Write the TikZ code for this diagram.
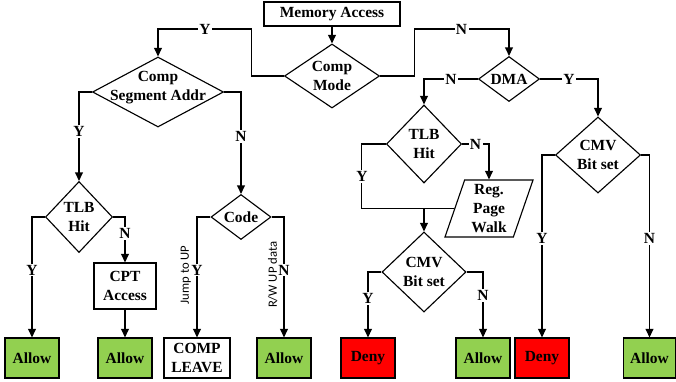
\documentclass[tikz,border=0pt]{standalone}
\usepackage{fontspec}
\setmainfont{Liberation Serif}
\newfontfamily\notefont{Carlito}
\usetikzlibrary{shapes.geometric,arrows.meta}
\definecolor{allowgreen}{HTML}{92D050}
\definecolor{denyred}{HTML}{FF0000}
\tikzset{
box/.style={draw,thick,inner sep=1pt,align=center},
allow/.style={box,fill=allowgreen,minimum width=1.35cm,minimum height=1cm},
deny/.style={box,fill=denyred,minimum width=1.35cm,minimum height=1cm},
decide/.style={diamond,draw,thick,inner sep=0pt},
walkbox/.style={trapezium,trapezium left angle=68,trapezium right angle=112,trapezium stretches=true,draw,thick,inner sep=0pt,minimum width=2.2cm,minimum height=1.425cm},
flow/.style={draw,thick,-{Triangle[length=6pt,width=5.5pt]}},
lbl/.style={fill=white,inner sep=1pt},
note/.style={rotate=90,inner sep=0pt,font=\notefont\fontsize{9}{10}\selectfont}
}
\providecommand{\Decide}[6][0pt]{
\node[decide,minimum width=#4cm,minimum height=#5cm] (#2) at (#3) {};
\node[align=center] (#2-txt) at ([yshift=#1]#2.center) {#6};
}

\begin{document}
\begin{tikzpicture}[x=0.025cm,y=-0.025cm,font=\fontsize{11}{13.5}\selectfont\bfseries]
\useasboundingbox (0,0) rectangle (676,381);
\node[box,minimum width=3.4cm,minimum height=0.6cm] (mem) at (332,14) {Memory Access};
\Decide{cmode}{332,76}{2.375}{1.6}{Comp\\Mode}
\Decide[3pt]{csa}{158,92}{3.275}{1.75}{Comp\\Segment Addr}
\Decide{tlba}{79,217}{1.675}{1.775}{TLB\\Hit}
\Decide{code}{241,217}{1.5}{1.125}{Code}
\Decide{dma}{509,79}{1.525}{1.125}{DMA}
\Decide{tlbb}{424,144}{1.875}{1.95}{TLB\\Hit}
\Decide{cmvb}{424,272}{2.1}{2.0}{CMV\\Bit set}
\Decide{cmvc}{598,155}{2.125}{1.9}{CMV\\Bit set}
\node[walkbox] (walk) at (489,208.5) {\phantom{\rule{1pt}{1pt}}};
\node[align=center] (walk-txt) at (walk.center) {Reg.\\Page\\Walk};
\node[box,minimum width=1.55cm,minimum height=1.15cm] (cpt) at (125,286) {CPT\\Access};
\node[allow] (allowa) at (32,358) {Allow};
\node[allow] (allowb) at (125,358) {Allow};
\node[box,minimum width=1.65cm,minimum height=1cm] (leave) at (197,358) {COMP\\LEAVE};
\node[allow] (allowc) at (284,358) {Allow};
\node[deny] (denya) at (368,358) {Deny};
\node[allow] (allowd) at (483,358) {Allow};
\node[deny] (denyb) at (542,358) {Deny};
\node[allow,minimum width=1.3cm] (allowe) at (649.5,358) {Allow};

\draw[flow] (mem) -- (cmode);
\draw[flow] (cmode.west) -| ++(-32,-47) -| node[lbl,pos=0.25]{Y} (csa.north);
\draw[flow] (cmode.east) -| ++(34,-47) -| node[lbl,pos=0.25]{N} (dma.north);
\draw[flow] (csa.west) -| node[lbl,pos=0.72]{Y} (tlba.north);
\draw[flow] (csa.east) -| node[lbl,pos=0.72]{N} (code.north);
\draw[flow] (tlba.west) -| node[lbl,pos=0.72]{Y} (allowa.north);
\draw[flow] (tlba.east) -| node[lbl,pos=0.68]{N} (cpt.north);
\draw[flow] (cpt) -- (allowb);
\draw[flow] (code.west) -| node[lbl,pos=0.72]{Y} node[xshift=-0.28cm,note,pos=0.74]{Jump to UP} (leave.north);
\draw[flow] (code.east) -| node[lbl,pos=0.72]{N} node[xshift=-0.28cm,note,pos=0.74]{R/W UP data} (allowc.north);
\draw[flow] (dma.west) -| node[lbl,pos=0.25]{N} (tlbb.north);
\draw[flow] (dma.east) -| node[lbl,pos=0.25]{Y} (cmvc.north);
\draw[flow] (tlbb.east) -| node[lbl,pos=0.25]{N} (walk.north);
\draw[thick] (tlbb.west) -- ++(-24,0) |- node[lbl,pos=0.25]{Y} (walk.left side);
\coordinate (merge) at (cmvb.north |- walk.left side);
\draw[flow] (merge) -- (cmvb.north);
\draw[flow] (cmvb.west) -| node[lbl,pos=0.7]{Y} (denya.north);
\draw[flow] (cmvb.east) -| node[lbl,pos=0.68]{N} (allowd.north);
\draw[flow] (cmvc.west) -| node[lbl,pos=0.73]{Y} (denyb.north);
\draw[flow] (cmvc.east) -| node[lbl,pos=0.73]{N} (allowe.north);
\end{tikzpicture}
\end{document}
